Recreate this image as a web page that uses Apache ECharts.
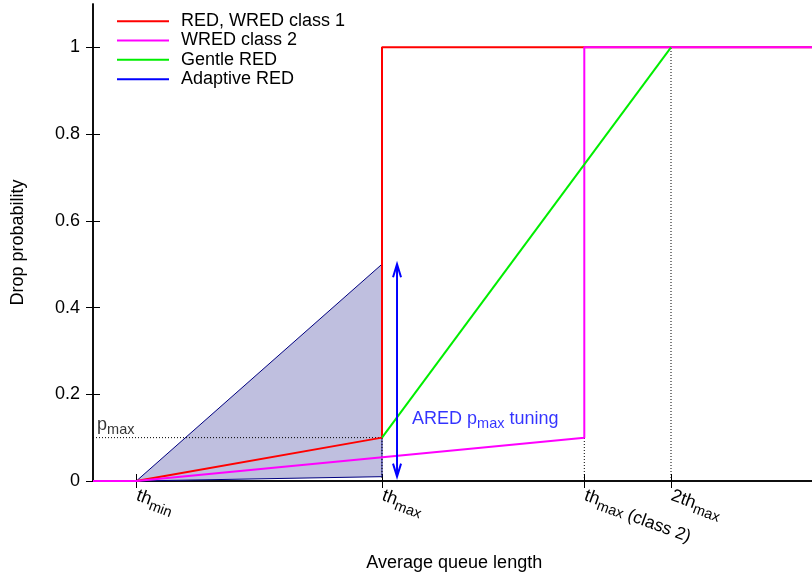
<!DOCTYPE html>
<html>
<head>
<meta charset="utf-8">
<script src="https://cdn.jsdelivr.net/npm/echarts@6/dist/echarts.min.js"></script>
<style>
html,body{margin:0;padding:0;background:#fff;}
#c{width:812px;height:576px;}
</style>
</head>
<body>
<div id="c"></div>
<script>
// ---- data ----
const xTicks = [0.15, 1, 1.7, 2];
const xTickMain = ['th', 'th', 'th', '2th'];
const xTickSub = ['min', 'max', 'max', 'max'];
const xTickExtra = ['', '', ' (class 2)', ''];
const yTicks = [0, 0.2, 0.4, 0.6, 0.8, 1];
const seriesNames = ['RED, WRED class 1', 'WRED class 2', 'Gentle RED', 'Adaptive RED'];
const redX = [0, 0.15, 1, 1, 2.5];
const redY = [0, 0, 0.1, 1, 1];
const wredX = [0, 0.15, 1.7, 1.7, 2.5];
const wredY = [0, 0, 0.1, 1, 1];
const gentleX = [1, 2];
const gentleY = [0.1, 1];
const aredX = [0.15, 1, 1, 0.15];
const aredY = [0, 0.5, 0.01, 0];
const arrowX = [1.052, 1.052];
const arrowY = [0.01, 0.5];
const pmax = 0.1;
const pmaxLineX = [0, 1];
const guideX = [1, 1.7, 2];
const guideTop = [0.1, 0.1, 1];
const aredLabelPos = [1.104, 0.139];
const pmaxLabelX = 0.014;

const FONT = 'Liberation Sans';
const pairs = (xs, ys) => xs.map((x, i) => [x, ys[i]]);

const chart = echarts.init(document.getElementById('c'), null, {renderer: 'canvas'});

const subRich = (color) => ({
  a: {fontSize: 18, fontFamily: FONT, color: color, lineHeight: 18, verticalAlign: 'top'},
  b: {fontSize: 14.5, fontFamily: FONT, color: color, lineHeight: 22, verticalAlign: 'bottom'},
  c: {fontSize: 17.5, fontFamily: FONT, color: color, lineHeight: 22, verticalAlign: 'bottom'}
});

const dotted = {color: '#000', width: 1, type: [1, 2]};
const dottedSeries = [];
dottedSeries.push({
  type: 'line', data: pairs(pmaxLineX, [pmax, pmax]), showSymbol: false, silent: true,
  lineStyle: dotted, z: 2, animation: false
});
guideX.forEach((gx, i) => {
  dottedSeries.push({
    type: 'line', data: [[gx, 0], [gx, guideTop[i]]], showSymbol: false, silent: true,
    lineStyle: dotted, z: 2, animation: false
  });
});

const tickStyle = {show: true, inside: true, length: 7, lineStyle: {color: '#000', width: 1}};

const option = {
  animation: false,
  backgroundColor: '#fff',
  textStyle: {fontFamily: FONT},
  grid: {left: 93, top: 4, right: -3.5, bottom: 95, containLabel: false, outerBoundsMode: 'none'},
  legend: {
    left: 117, top: 11.5, orient: 'vertical', padding: 0, itemGap: 0,
    itemWidth: 52, itemHeight: 2, icon: 'rect',
    textStyle: {fontSize: 18, fontFamily: FONT, color: '#000', lineHeight: 19.33, padding: [0, 0, 0, 7]},
    data: [
      {name: seriesNames[0], itemStyle: {color: '#ff0000'}},
      {name: seriesNames[1], itemStyle: {color: '#ff00ff'}},
      {name: seriesNames[2], itemStyle: {color: '#00ee00'}},
      {name: seriesNames[3], itemStyle: {color: '#0000ff'}}
    ],
    selectedMode: false
  },
  xAxis: [{
    type: 'value', min: 0, max: 2.5, position: 'bottom',
    name: 'Average queue length', nameLocation: 'middle', nameGap: 73, nameMoveOverlap: false,
    nameTextStyle: {fontSize: 18, fontFamily: FONT, color: '#000'},
    axisLine: {show: true, lineStyle: {color: '#000', width: 1.5}},
    axisTick: Object.assign({customValues: xTicks}, tickStyle),
    axisLabel: {
      show: true, customValues: xTicks, rotate: -20, margin: 16, hideOverlap: false,
      showMinLabel: true, showMaxLabel: true,
      formatter: (v) => {
        let i = -1;
        xTicks.forEach((t, k) => { if (Math.abs(t - v) < 1e-9) i = k; });
        if (i < 0) return '';
        let s = '{a|' + xTickMain[i] + '}{b|' + xTickSub[i] + '}';
        if (xTickExtra[i]) s += '{c|' + xTickExtra[i] + '}';
        return s;
      },
      rich: subRich('#000')
    },
    splitLine: {show: false}
  }, {
    type: 'value', min: 0, max: 2.5, position: 'top',
    axisLine: {show: true, lineStyle: {color: '#000', width: 1.5}},
    axisTick: Object.assign({customValues: xTicks}, tickStyle),
    axisLabel: {show: false},
    splitLine: {show: false}
  }],
  yAxis: [{
    type: 'value', min: 0, max: 1.1, position: 'left',
    name: 'Drop probability', nameLocation: 'middle', nameGap: 66, nameMoveOverlap: false,
    nameTextStyle: {fontSize: 18, fontFamily: FONT, color: '#000'},
    axisLine: {show: true, lineStyle: {color: '#000', width: 1.5}},
    axisTick: Object.assign({customValues: yTicks}, tickStyle),
    axisLabel: {show: true, customValues: yTicks, margin: 13, fontSize: 18, fontFamily: FONT, color: '#000', hideOverlap: false},
    splitLine: {show: false}
  }, {
    type: 'value', min: 0, max: 1.1, position: 'right',
    axisLine: {show: true, lineStyle: {color: '#000', width: 1.5}},
    axisTick: Object.assign({customValues: yTicks}, tickStyle),
    axisLabel: {show: false},
    splitLine: {show: false}
  }],
  series: [
    {
      name: seriesNames[3], type: 'custom', z: 1, silent: true,
      data: [[aredX[0], aredY[0]]],
      renderItem: (params, api) => {
        const pts = aredX.map((x, i) => api.coord([x, aredY[i]]));
        return {
          type: 'polygon', shape: {points: pts},
          style: {fill: '#bfbfdf', stroke: '#000080', lineWidth: 1}
        };
      },
      itemStyle: {color: '#0000ff'}
    },
    ...dottedSeries,
    {
      name: seriesNames[0], type: 'line', data: pairs(redX, redY), showSymbol: false,
      lineStyle: {color: '#ff0000', width: 2}, itemStyle: {color: '#ff0000'}, z: 3
    },
    {
      name: seriesNames[1], type: 'line', data: pairs(wredX, wredY), showSymbol: false,
      lineStyle: {color: '#ff00ff', width: 2}, itemStyle: {color: '#ff00ff'}, z: 4
    },
    {
      name: seriesNames[2], type: 'line', data: pairs(gentleX, gentleY), showSymbol: false,
      lineStyle: {color: '#00ee00', width: 2}, itemStyle: {color: '#00ee00'}, z: 5
    },
    {
      type: 'custom', z: 6, silent: true,
      data: [[arrowX[0], arrowY[0]]],
      renderItem: (params, api) => {
        const p0 = api.coord([arrowX[0], arrowY[0]]);
        const p1 = api.coord([arrowX[1], arrowY[1]]);
        const st = {stroke: '#0000ff', lineWidth: 2, fill: null};
        return {
          type: 'group', children: [
            {type: 'line', shape: {x1: p0[0], y1: p0[1], x2: p1[0], y2: p1[1]}, style: st},
            {type: 'polyline', shape: {points: [[p1[0] - 4, p1[1] + 13], [p1[0], p1[1]], [p1[0] + 4, p1[1] + 13]]}, style: st},
            {type: 'polyline', shape: {points: [[p0[0] - 4, p0[1] - 13], [p0[0], p0[1]], [p0[0] + 4, p0[1] - 13]]}, style: st}
          ]
        };
      }
    },
    {
      type: 'scatter', z: 7, silent: true, symbolSize: 0,
      data: [[aredLabelPos[0], aredLabelPos[1]]],
      label: {
        show: true, position: [0, 0], align: 'left', verticalAlign: 'middle',
        formatter: '{a|ARED p}{b|max}{a| tuning}', rich: subRich('#0000ff')
      }
    },
    {
      type: 'scatter', z: 7, silent: true, symbolSize: 0,
      data: [[pmaxLabelX, pmax]],
      label: {
        show: true, position: [0, 0], align: 'left', verticalAlign: 'bottom',
        formatter: '{a|p}{b|max}', rich: subRich('#000')
      }
    }
  ]
};
chart.setOption(option);
</script>
</body>
</html>
